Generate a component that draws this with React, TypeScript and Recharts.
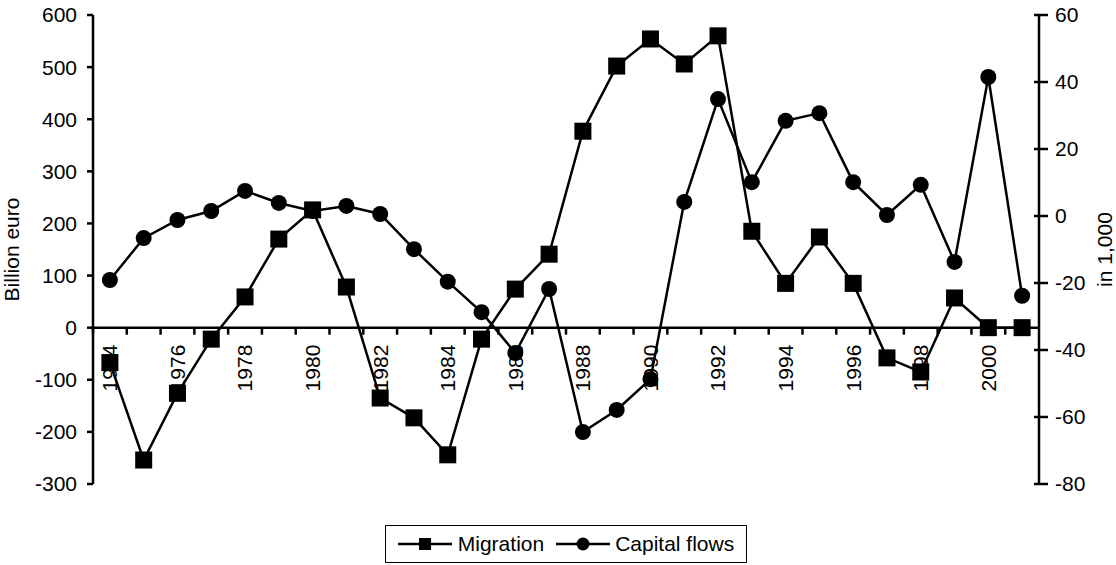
import React from 'react'
import { LineChart, Line, XAxis, YAxis, ReferenceLine } from 'recharts'

const years = [
  1974, 1975, 1976, 1977, 1978, 1979, 1980, 1981, 1982, 1983, 1984, 1985, 1986, 1987,
  1988, 1989, 1990, 1991, 1992, 1993, 1994, 1995, 1996, 1997, 1998, 1999, 2000, 2001,
]
const migration = [
  -67, -254, -126, -22, 59, 170, 226, 78, -135, -173, -244, -22, 74, 141,
  377, 502, 554, 506, 560, 185, 85, 174, 85, -58, -85, 57, 0, 0,
]
const capitalFlows = [
  -19.1, -6.6, -1.2, 1.5, 7.5, 3.9, 1.5, 3, 0.6, -9.9, -19.6, -28.7, -40.9, -21.8,
  -64.5, -57.9, -48.7, 4.2, 34.9, 10.1, 28.4, 30.7, 10.1, 0.3, 9.3, -13.7, 41.5, -23.8,
]
const leftTicks = [-300, -200, -100, 0, 100, 200, 300, 400, 500, 600]
const rightTicks = [-80, -60, -40, -20, 0, 20, 40, 60]

const data = years.map((year, i) => ({
  year,
  migration: migration[i],
  capital: capitalFlows[i],
}))

const W = 1116
const H = 565
const TOP = 15
const PLOT_H = 469
const LEFT_W = 93
const RIGHT_W = 77
const BOTTOM_H = H - TOP - PLOT_H
const PLOT_W = W - LEFT_W - RIGHT_W
const BAND = PLOT_W / years.length
const LEFT_MIN = leftTicks[0]
const LEFT_MAX = leftTicks[leftTicks.length - 1]
const ZERO_Y = TOP + (PLOT_H * LEFT_MAX) / (LEFT_MAX - LEFT_MIN)

const FONT = '"Liberation Sans", Arial, sans-serif'
const FS = 21
const SW = 2.5

function SquareDot(props: any) {
  const { cx, cy, index } = props
  if (cx == null || cy == null) return null
  return <rect key={`sq-${index}`} x={cx - 8.5} y={cy - 8.5} width={17} height={17} fill="#000" />
}

function CircleDot(props: any) {
  const { cx, cy, index } = props
  if (cx == null || cy == null) return null
  return <circle key={`ci-${index}`} cx={cx} cy={cy} r={8} fill="#000" />
}

function YearTick(props: any) {
  const { x, payload } = props
  const year = payload.value
  const left = x - BAND / 2
  const ty = ZERO_Y + 17
  return (
    <g>
      <line x1={left} x2={left} y1={ZERO_Y} y2={ZERO_Y + 7} stroke="#000" strokeWidth={SW} />
      {year % 2 === 0 && (
        <text
          x={x}
          y={ty}
          transform={`rotate(-90 ${x} ${ty})`}
          textAnchor="end"
          dy="0.35em"
          fontSize={FS}
          fontFamily={FONT}
          fill="#000"
        >
          {year}
        </text>
      )}
    </g>
  )
}

function RightTick(props: any) {
  const { x, y, payload } = props
  // short inner part of the crossing tick
  const axisX = x - 16
  return (
    <g>
      <line x1={axisX - 5} x2={axisX} y1={y} y2={y} stroke="#000" strokeWidth={SW} />
      <text x={x} y={y} dy="0.35em" textAnchor="start" fontSize={FS} fontFamily={FONT} fill="#000">
        {payload.value}
      </text>
    </g>
  )
}

function AxisTitle({ viewBox, value, dx }: any) {
  const cx = viewBox.x + dx
  const cy = viewBox.y + viewBox.height / 2
  return (
    <text
      x={cx}
      y={cy}
      transform={`rotate(-90 ${cx} ${cy})`}
      textAnchor="middle"
      dy="0.35em"
      fontSize={FS}
      fontFamily={FONT}
      fill="#000"
    >
      {value}
    </text>
  )
}

function LegendBox() {
  return (
    <div
      style={{
        position: 'absolute',
        left: 385,
        top: 525,
        width: 362,
        height: 38,
        boxSizing: 'border-box',
        border: '1.5px solid #000',
        display: 'flex',
        alignItems: 'center',
        justifyContent: 'center',
        fontFamily: FONT,
        fontSize: FS,
        color: '#000',
        background: '#fff',
      }}
    >
      <svg width={54} height={20} style={{ marginRight: 6 }}>
        <line x1={0} x2={54} y1={10} y2={10} stroke="#000" strokeWidth={SW} />
        <rect x={21} y={4} width={12} height={12} fill="#000" />
      </svg>
      <span style={{ marginRight: 12 }}>Migration</span>
      <svg width={54} height={20} style={{ marginRight: 5 }}>
        <line x1={0} x2={54} y1={10} y2={10} stroke="#000" strokeWidth={SW} />
        <circle cx={27} cy={10} r={6.5} fill="#000" />
      </svg>
      <span>Capital flows</span>
    </div>
  )
}

export default function App() {
  return (
    <div style={{ position: 'absolute', left: 0, top: 0, width: W, height: H, background: '#fff' }}>
      <LineChart width={W} height={H} data={data} margin={{ top: TOP, right: 0, bottom: 0, left: 0 }}>
        <XAxis
          dataKey="year"
          scale="band"
          interval={0}
          axisLine={false}
          tickLine={false}
          height={BOTTOM_H}
          tick={<YearTick />}
        />
        <YAxis
          yAxisId="left"
          orientation="left"
          width={LEFT_W}
          domain={[LEFT_MIN, LEFT_MAX]}
          ticks={leftTicks}
          interval={0}
          axisLine={{ stroke: '#000', strokeWidth: SW }}
          tickLine={{ stroke: '#000', strokeWidth: SW }}
          tickSize={6}
          tickMargin={10}
          tick={{ fill: '#000', fontSize: FS, fontFamily: FONT }}
          label={<AxisTitle value="Billion euro" dx={12} />}
        />
        <YAxis
          yAxisId="right"
          orientation="right"
          width={RIGHT_W}
          domain={[rightTicks[0], rightTicks[rightTicks.length - 1]]}
          ticks={rightTicks}
          interval={0}
          axisLine={{ stroke: '#000', strokeWidth: SW }}
          tickLine={{ stroke: '#000', strokeWidth: SW }}
          tickSize={9}
          tickMargin={7}
          tick={<RightTick />}
          label={<AxisTitle value="in 1,000" dx={66} />}
        />
        <ReferenceLine yAxisId="left" y={0} stroke="#000" strokeWidth={SW} />
        <Line
          yAxisId="left"
          dataKey="migration"
          stroke="#000"
          strokeWidth={SW}
          dot={<SquareDot />}
          isAnimationActive={false}
        />
        <Line
          yAxisId="right"
          dataKey="capital"
          stroke="#000"
          strokeWidth={SW}
          dot={<CircleDot />}
          isAnimationActive={false}
        />
      </LineChart>
      <LegendBox />
    </div>
  )
}
